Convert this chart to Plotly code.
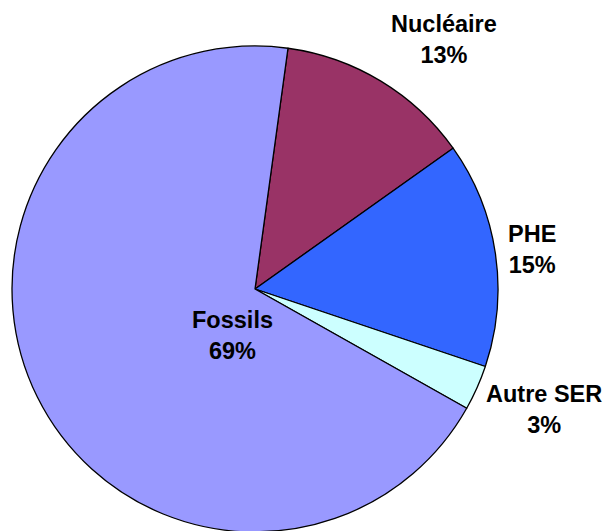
import plotly.graph_objects as go

labels = ["Nucléaire", "PHE", "Autre SER", "Fossils"]
values = [13, 15, 3, 69]
colors = ["#993366", "#3366FF", "#CCFFFF", "#9999FF"]
# label anchor positions in figure pixels (x, y from top)
label_pos = [(436, 32), (524, 241), (536, 401), (224, 327)]

W, H = 611, 531

fig = go.Figure(go.Pie(
    labels=labels,
    values=values,
    sort=False,
    direction="clockwise",
    rotation=7.8,
    marker=dict(colors=colors, line=dict(color="black", width=1.3)),
    textinfo="none",
    hoverinfo="label+percent",
    domain=dict(x=[4 / W, 490 / W], y=[7 / H, 493 / H]),
    showlegend=False,
))

total = sum(values)
annotations = []
for lab, v, (px, py) in zip(labels, values, label_pos):
    annotations.append(dict(
        x=px / W, y=1 - py / H, xref="paper", yref="paper",
        xanchor="center", yanchor="middle", showarrow=False,
        text=f"<b>{lab}</b><br><b>{round(100 * v / total)}%</b>",
        font=dict(family="Liberation Sans, Arial, sans-serif", size=23.5, color="black"),
        align="center",
    ))

fig.update_layout(
    width=W, height=H,
    margin=dict(l=0, r=0, t=0, b=0),
    paper_bgcolor="white", plot_bgcolor="white",
    annotations=annotations,
)

fig.write_html("out.html")
